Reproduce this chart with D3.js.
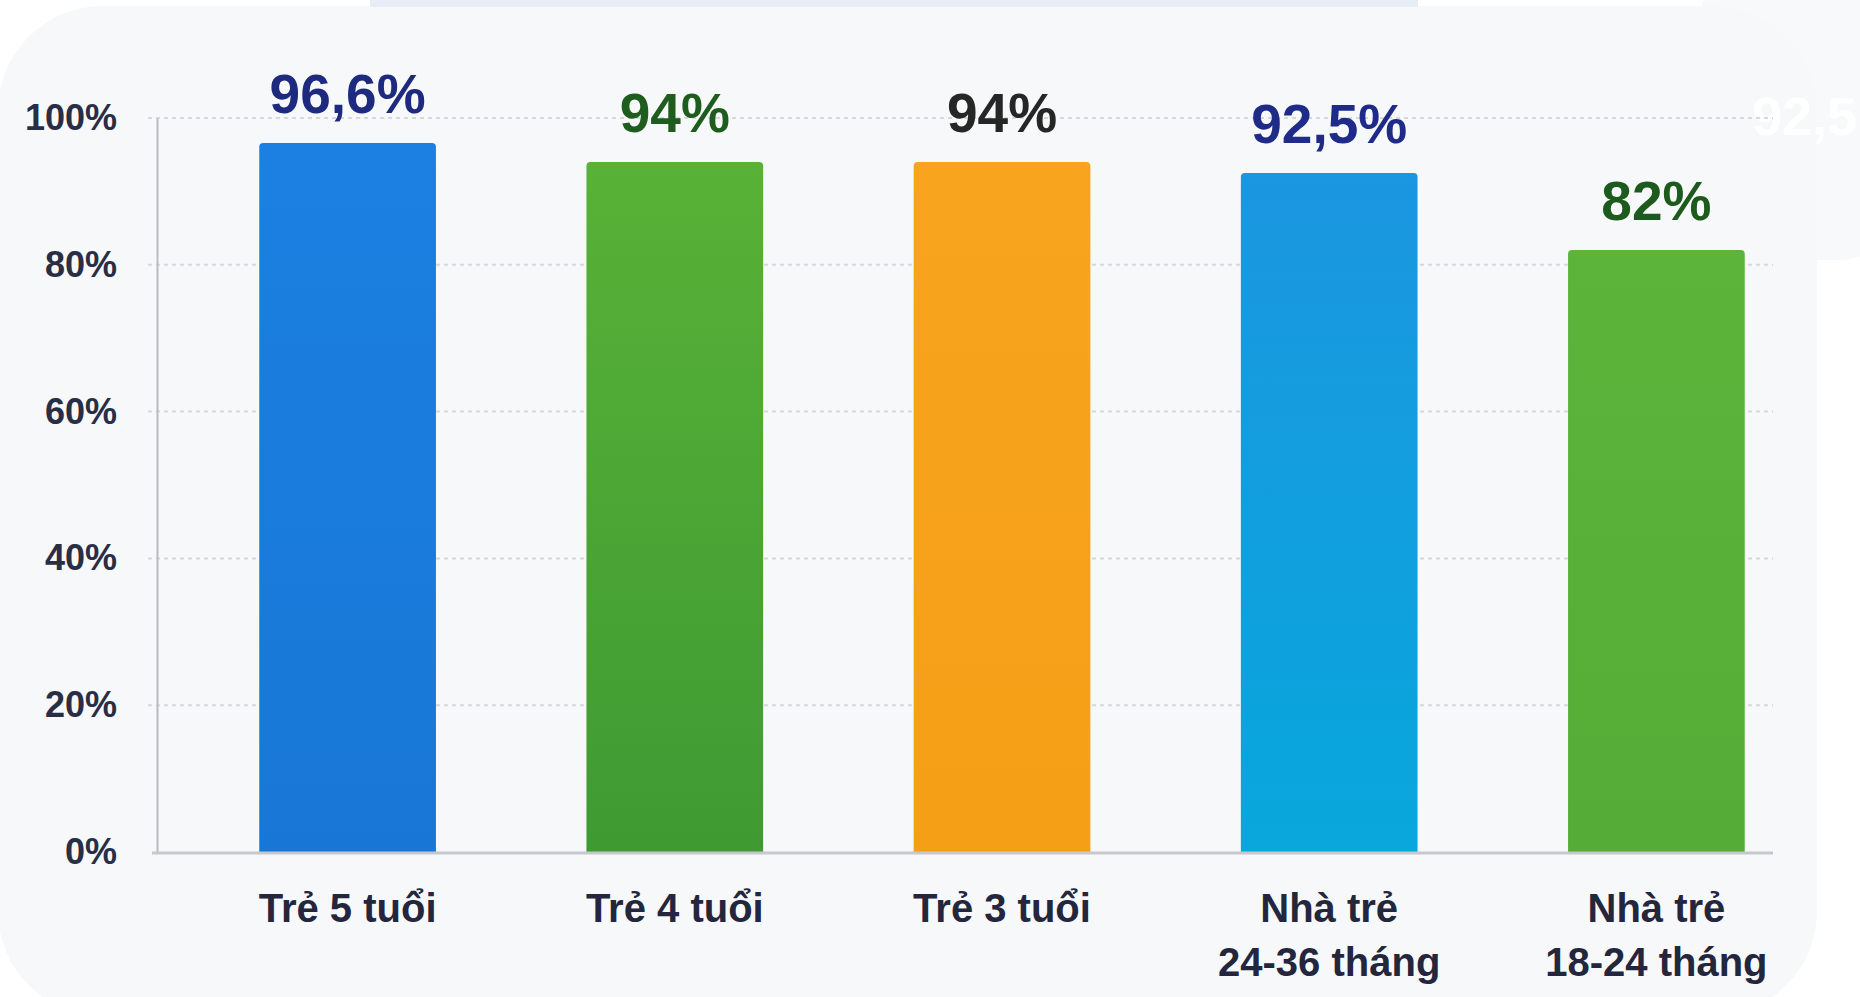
<!DOCTYPE html>
<html>
<head>
<meta charset="utf-8">
<script src="https://cdn.jsdelivr.net/npm/d3@7"></script>
<style>
  html, body { margin: 0; padding: 0; background: #ffffff; }
  svg { display: block; }
</style>
</head>
<body>
<svg id="chart" width="1860" height="997"></svg>
<script>
// ---- data ----
const categories = [
  ["Trẻ 5 tuổi"],
  ["Trẻ 4 tuổi"],
  ["Trẻ 3 tuổi"],
  ["Nhà trẻ", "24-36 tháng"],
  ["Nhà trẻ", "18-24 tháng"]
];
const values = [96.6, 94, 94, 92.5, 82];
const valueLabels = ["96,6%", "94%", "94%", "92,5%", "82%"];
const yTicks = [0, 20, 40, 60, 80, 100];
const yTickLabels = ["0%", "20%", "40%", "60%", "80%", "100%"];

// ---- styles ----
const barTop = ["#1b80e2", "#58b237", "#f8a41e", "#1b96e0", "#5cb43b"];
const barBottom = ["#1877d6", "#3f9a33", "#f59f16", "#08a7dc", "#55ad37"];
const labelColors = ["#1d2a80", "#1f5d1f", "#262626", "#1f2b88", "#1d5a1d"];

const svg = d3.select("#chart");
const W = 1860, H = 997;

// background
svg.append("rect").attr("x", 0).attr("y", 0).attr("width", W).attr("height", H).attr("fill", "#ffffff");
svg.append("rect").attr("x", 1700).attr("y", -40).attr("width", 200).attr("height", 300)
  .attr("rx", 60).attr("fill", "#f7f9fb");
svg.append("rect").attr("x", -2).attr("y", 6).attr("width", 1819).attr("height", 1010)
  .attr("rx", 105).attr("fill", "#f7f8f9");
svg.append("rect").attr("x", 370).attr("y", 0).attr("width", 1048).attr("height", 7)
  .attr("fill", "#e7eef8");

// ghost text at top right
svg.append("text").attr("x", 1752).attr("y", 135)
  .attr("font-family", "Liberation Sans, Arial, sans-serif").attr("font-weight", "bold")
  .attr("font-size", 54).attr("fill", "#ffffff").text("92,5");

// gradients
const defs = svg.append("defs");
values.forEach((v, i) => {
  const g = defs.append("linearGradient").attr("id", "g" + i)
    .attr("x1", 0).attr("y1", 0).attr("x2", 0).attr("y2", 1);
  g.append("stop").attr("offset", "0%").attr("stop-color", barTop[i]);
  g.append("stop").attr("offset", "100%").attr("stop-color", barBottom[i]);
});

// scales
const x = d3.scaleBand().domain(d3.range(values.length))
  .range([184, 1820]).paddingInner(0.46).paddingOuter(0.23);
const y = d3.scaleLinear().domain([0, 100]).range([852, 118]);

const font = "Liberation Sans, Arial, Helvetica, sans-serif";

// gridlines
const grid = svg.append("g");
grid.selectAll("line").data(yTicks.filter(t => t > 0)).join("line")
  .attr("x1", 148).attr("x2", 1773)
  .attr("y1", d => y(d)).attr("y2", d => y(d))
  .attr("stroke", "#d6d8db").attr("stroke-width", 2).attr("stroke-dasharray", "4,4");

// y axis
const yAxis = d3.axisLeft(y).tickValues(yTicks)
  .tickFormat((d, i) => yTickLabels[i]).tickSize(0).tickPadding(40);
const yg = svg.append("g").attr("transform", "translate(157,0)").call(yAxis);
yg.select(".domain").attr("stroke", "#b9bbbf").attr("stroke-width", 2);
yg.selectAll("text").attr("font-family", font).attr("font-weight", "bold")
  .attr("font-size", 36).attr("fill", "#2a2e45").attr("dy", "0.32em");

// bars
svg.append("g").selectAll("path").data(values).join("path")
  .attr("d", (d, i) => {
    const x0 = x(i), w = x.bandwidth(), y0 = y(d), y1 = y(0), r = 4;
    return `M${x0},${y1} L${x0},${y0 + r} Q${x0},${y0} ${x0 + r},${y0} L${x0 + w - r},${y0} Q${x0 + w},${y0} ${x0 + w},${y0 + r} L${x0 + w},${y1} Z`;
  })
  .attr("fill", (d, i) => `url(#g${i})`);

// baseline
svg.append("line").attr("x1", 152).attr("x2", 1773).attr("y1", y(0) + 1).attr("y2", y(0) + 1)
  .attr("stroke", "#c6c8cb").attr("stroke-width", 3);

// x axis labels
const xAxis = d3.axisBottom(x).tickSize(0).tickFormat(() => "");
const xg = svg.append("g").attr("transform", `translate(0,${y(0)})`).call(xAxis);
xg.select(".domain").remove();
xg.selectAll(".tick").each(function (d) {
  const t = d3.select(this).append("text")
    .attr("font-family", font).attr("font-weight", "bold").attr("font-size", 40)
    .attr("fill", "#23263d").attr("text-anchor", "middle");
  categories[d].forEach((line, k) => {
    t.append("tspan").attr("x", 0).attr("y", 70 + k * 54).text(line);
  });
});

// value labels
svg.append("g").selectAll("text").data(values).join("text")
  .attr("x", (d, i) => x(i) + x.bandwidth() / 2)
  .attr("y", d => y(d) - 30)
  .attr("text-anchor", "middle")
  .attr("font-family", font).attr("font-weight", "bold").attr("font-size", 55)
  .attr("fill", (d, i) => labelColors[i])
  .text((d, i) => valueLabels[i]);
</script>
</body>
</html>
